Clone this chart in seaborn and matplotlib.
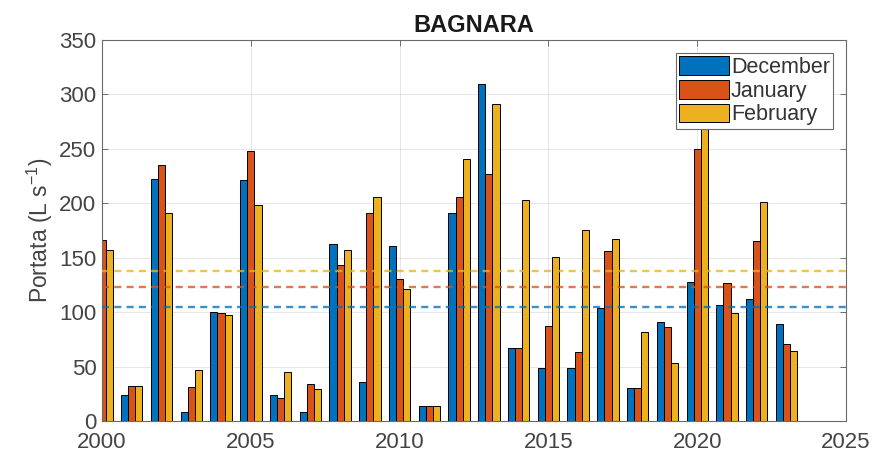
import numpy as np
import pandas as pd
import matplotlib
matplotlib.use("Agg")
import matplotlib.pyplot as plt
import seaborn as sns

years = list(range(2000, 2024))
months = ["December", "January", "February"]
december = [150, 24, 222, 8, 100, 221, 24, 8, 163, 36, 161, 14, 191, 310, 67, 49, 49, 104, 30, 91, 128, 107, 112, 89]
january  = [166, 32, 235, 31, 99, 248, 21, 34, 143, 191, 130, 14, 206, 227, 67, 87, 63, 156, 30, 86, 250, 127, 165, 71]
february = [157, 32, 191, 47, 97, 198, 45, 29, 157, 206, 121, 14, 241, 291, 203, 151, 175, 167, 82, 53, 300, 99, 201, 64]
ref_levels = [104.5, 123, 138]
colors = ["#0072BD", "#D95319", "#EDB120"]

df = pd.DataFrame({
    "year": years * 3,
    "month": [m for m in months for _ in years],
    "value": december + january + february,
})

sns.set_theme(style="white")
plt.rcParams["font.family"] = ["Liberation Sans", "DejaVu Sans"]

fig = plt.figure(figsize=(8.75, 4.58), dpi=100)
ax = fig.add_axes([0.1166, 0.0808, 0.8503, 0.8319])

sns.barplot(data=df, x="year", y="value", hue="month", hue_order=months,
            palette=colors, native_scale=True, width=0.72, dodge=True,
            errorbar=None, edgecolor="black", linewidth=0.7, saturation=1,
            ax=ax, zorder=2)

for lvl, c in zip(ref_levels, colors):
    ax.axhline(lvl, color=c, linestyle=(0, (3, 2.2)), linewidth=1.7,
               alpha=0.78, zorder=3)

ax.set_xlim(2000, 2025)
ax.set_ylim(0, 350)
ax.set_xticks([2000, 2005, 2010, 2015, 2020, 2025])
ax.set_yticks(range(0, 351, 50))
ax.grid(True, color="#262626", alpha=0.13, linewidth=0.6, zorder=0)
ax.set_axisbelow(True)
ax.tick_params(direction="in", length=4, width=0.6, colors="#5a5a5a",
               labelcolor="#444444", labelsize=16, top=True, right=True,
               bottom=True, left=True, pad=3)
ax.tick_params(axis="x", pad=8)
ax.tick_params(axis="y", pad=4)
for s in ax.spines.values():
    s.set_color("#6a6a6a")
    s.set_linewidth(0.8)

ax.set_xlabel("")
ax.set_ylabel(r"Portata (L s$^{\mathregular{-1}}$)", fontsize=16.5, color="#444444", labelpad=3)
ax.set_title("BAGNARA", fontsize=17, fontweight="bold", color="#1a1a1a", pad=6)

handles, labels = ax.get_legend_handles_labels()
leg = ax.legend(handles, labels, loc="upper right", fontsize=15.5,
                frameon=True, fancybox=False, edgecolor="#6a6a6a",
                framealpha=1, borderpad=0.15, labelspacing=0.1,
                handlelength=2.3, handleheight=0.95, handletextpad=0.1,
                borderaxespad=0.6)
leg.get_frame().set_linewidth(0.8)
for t in leg.get_texts():
    t.set_color("#333333")

fig.savefig("out.png", dpi=100)
